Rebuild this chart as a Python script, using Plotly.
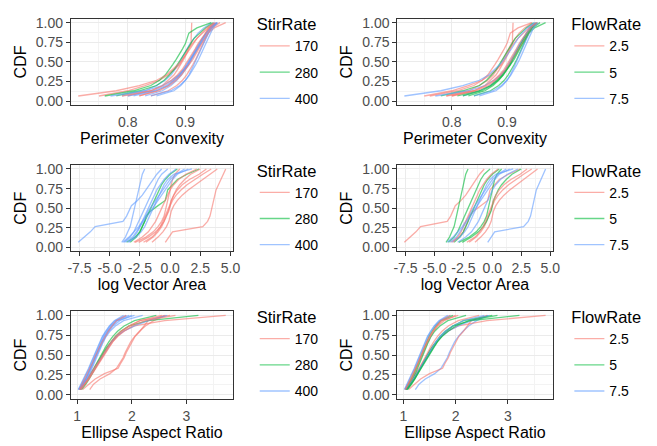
import plotly.graph_objects as go

# ---- data -------------------------------------------------------------
stir_levels = ["170", "280", "400"]
flow_levels = ["2.5", "5", "7.5"]

curve_stir = ["400", "170", "170", "170", "280", "280", "400", "400",
              "170", "400", "400", "170", "400", "170", "400", "170"]
curve_flow = ["2.5", "7.5", "2.5", "2.5", "2.5", "5", "5", "5",
              "5", "7.5", "7.5", "7.5", "2.5", "5", "7.5", "2.5"]

convexity = [
    [0.79, 0.83, 0.85, 0.865, 0.875, 0.882, 0.888, 0.893, 0.898, 0.903, 0.908, 0.915, 0.922, 0.932, 0.945],
    [0.82, 0.85, 0.87, 0.88, 0.89, 0.898, 0.905, 0.91, 0.915, 0.92, 0.925, 0.93, 0.935, 0.94, 0.95],
    [0.80, 0.84, 0.86, 0.87, 0.88, 0.886, 0.892, 0.897, 0.902, 0.906, 0.91, 0.91, 0.91, 0.91, 0.911],
    [0.75, 0.80, 0.83, 0.855, 0.87, 0.88, 0.89, 0.895, 0.90, 0.905, 0.912, 0.92, 0.93, 0.94, 0.955],
    [0.76, 0.81, 0.84, 0.855, 0.865, 0.872, 0.878, 0.884, 0.89, 0.895, 0.90, 0.903, 0.906, 0.92, 0.945],
    [0.78, 0.82, 0.85, 0.863, 0.872, 0.88, 0.886, 0.892, 0.898, 0.903, 0.909, 0.915, 0.925, 0.935, 0.948],
    [0.83, 0.86, 0.875, 0.885, 0.893, 0.90, 0.906, 0.911, 0.916, 0.921, 0.926, 0.931, 0.937, 0.943, 0.952],
    [0.81, 0.85, 0.87, 0.882, 0.891, 0.898, 0.904, 0.909, 0.914, 0.919, 0.924, 0.93, 0.936, 0.944, 0.955],
    [0.84, 0.87, 0.885, 0.895, 0.902, 0.908, 0.913, 0.918, 0.922, 0.926, 0.93, 0.935, 0.94, 0.95, 0.97],
    [0.85, 0.88, 0.892, 0.90, 0.906, 0.911, 0.915, 0.919, 0.923, 0.927, 0.931, 0.935, 0.94, 0.946, 0.953],
    [0.77, 0.83, 0.86, 0.876, 0.888, 0.896, 0.902, 0.908, 0.913, 0.918, 0.923, 0.929, 0.936, 0.943, 0.95],
    [0.714, 0.78, 0.82, 0.85, 0.867, 0.878, 0.887, 0.895, 0.902, 0.908, 0.914, 0.92, 0.928, 0.937, 0.95],
    [0.80, 0.845, 0.866, 0.879, 0.889, 0.897, 0.903, 0.909, 0.915, 0.92, 0.926, 0.932, 0.938, 0.945, 0.955],
    [0.82, 0.855, 0.872, 0.884, 0.893, 0.90, 0.907, 0.913, 0.918, 0.923, 0.928, 0.933, 0.939, 0.946, 0.96],
    [0.84, 0.875, 0.89, 0.90, 0.907, 0.913, 0.918, 0.923, 0.927, 0.931, 0.935, 0.939, 0.943, 0.948, 0.956],
    [0.79, 0.84, 0.862, 0.876, 0.886, 0.894, 0.90, 0.906, 0.912, 0.917, 0.922, 0.928, 0.935, 0.942, 0.952],
]

log_area = [
    [-7.6, -7.1, -6.6, -6.2, -3.9, -3.6, -3.4, -3.2, -2.7, -2.3, -2.0, -1.7, -1.4, -1.1, -0.7],
    [-0.4, -0.1, 0.2, 2.7, 3.1, 3.3, 3.4, 3.5, 3.6, 3.7, 3.8, 4.0, 4.2, 4.4, 4.6],
    [-1.5, -1.0, -0.6, -0.3, -0.1, 0.0, 0.1, 0.3, 0.6, 1.0, 1.5, 2.1, 2.7, 3.2, 3.9],
    [-2.0, -1.4, -1.0, -0.7, -0.5, -0.3, -0.15, 0.0, 0.2, 0.5, 0.9, 1.4, 2.0, 2.7, 3.4],
    [-3.6, -2.9, -2.5, -2.3, -2.1, -2.0, -1.6, -1.0, -0.4, -0.3, -0.2, 0.2, 0.6, 1.4, 2.4],
    [-3.3, -2.8, -2.5, -2.3, -2.1, -1.9, -1.7, -1.5, -1.3, -1.1, -0.9, -0.7, -0.4, 0.0, 0.6],
    [-4.0, -3.7, -3.5, -3.3, -3.2, -3.1, -3.0, -2.9, -2.8, -2.7, -2.6, -2.5, -2.4, -2.3, -2.1],
    [-3.8, -3.3, -3.0, -2.8, -2.6, -2.4, -2.2, -2.0, -1.8, -1.6, -1.4, -1.2, -1.0, -0.7, -0.2],
    [-2.9, -2.0, -1.4, -1.0, -0.7, -0.5, -0.4, -0.3, -0.2, -0.1, 0.0, 0.1, 0.2, 0.4, 0.8],
    [-3.9, -3.4, -3.0, -2.6, -2.3, -2.0, -1.8, -1.5, -1.2, -0.9, -0.6, -0.3, 0.0, 0.5, 1.2],
    [-3.5, -2.8, -2.4, -2.1, -1.9, -1.7, -1.5, -1.3, -1.1, -0.9, -0.7, -0.5, -0.2, 0.3, 1.8],
    [-3.0, -2.3, -1.8, -1.5, -1.2, -1.0, -0.8, -0.6, -0.4, -0.2, 0.0, 0.3, 0.7, 1.3, 2.2],
    [-3.4, -3.0, -2.7, -2.5, -2.3, -2.1, -1.9, -1.7, -1.5, -1.3, -1.1, -0.8, -0.5, -0.1, 0.5],
    [-2.6, -1.8, -1.2, -0.8, -0.5, -0.3, -0.1, 0.0, 0.1, 0.3, 0.5, 0.8, 1.2, 1.7, 2.5],
    [-3.7, -3.1, -2.8, -2.5, -2.2, -1.9, -1.6, -1.3, -1.0, -0.7, -0.4, -0.1, 0.2, 0.6, 1.5],
    [-2.2, -1.5, -1.1, -0.8, -0.6, -0.4, -0.2, -0.05, 0.1, 0.3, 0.6, 1.0, 1.6, 2.4, 3.0],
]

aspect = [
    [1.03, 1.10, 1.16, 1.21, 1.26, 1.30, 1.34, 1.38, 1.42, 1.47, 1.52, 1.58, 1.66, 1.78, 2.00],
    [1.23, 1.30, 1.42, 1.60, 1.72, 1.78, 1.84, 1.88, 1.93, 1.98, 2.05, 2.14, 2.25, 2.40, 2.62],
    [1.05, 1.12, 1.18, 1.24, 1.30, 1.36, 1.42, 1.48, 1.55, 1.63, 1.72, 1.85, 2.05, 2.60, 3.72],
    [1.10, 1.22, 1.33, 1.50, 1.75, 1.80, 1.86, 1.90, 1.95, 2.00, 2.06, 2.15, 2.22, 2.30, 2.60],
    [1.06, 1.14, 1.20, 1.26, 1.31, 1.36, 1.41, 1.46, 1.52, 1.58, 1.65, 1.74, 1.86, 2.05, 2.45],
    [1.08, 1.16, 1.22, 1.28, 1.33, 1.38, 1.43, 1.49, 1.55, 1.62, 1.70, 1.80, 1.95, 2.30, 3.22],
    [1.04, 1.10, 1.15, 1.20, 1.24, 1.28, 1.32, 1.36, 1.40, 1.44, 1.49, 1.55, 1.62, 1.72, 1.95],
    [1.05, 1.12, 1.18, 1.23, 1.27, 1.31, 1.35, 1.39, 1.43, 1.48, 1.53, 1.60, 1.70, 1.85, 2.20],
    [1.07, 1.15, 1.22, 1.28, 1.34, 1.40, 1.46, 1.52, 1.58, 1.65, 1.73, 1.82, 1.95, 2.15, 2.70],
    [1.03, 1.08, 1.13, 1.18, 1.22, 1.26, 1.30, 1.34, 1.38, 1.42, 1.47, 1.53, 1.60, 1.70, 1.90],
    [1.06, 1.13, 1.20, 1.26, 1.32, 1.38, 1.44, 1.50, 1.56, 1.63, 1.72, 1.85, 2.05, 2.30, 2.65],
    [1.05, 1.13, 1.20, 1.26, 1.32, 1.38, 1.44, 1.50, 1.56, 1.62, 1.70, 1.80, 1.95, 2.15, 2.55],
    [1.04, 1.10, 1.16, 1.20, 1.24, 1.28, 1.32, 1.36, 1.40, 1.45, 1.50, 1.56, 1.64, 1.74, 2.05],
    [1.06, 1.14, 1.21, 1.27, 1.33, 1.39, 1.45, 1.51, 1.58, 1.65, 1.74, 1.86, 2.00, 2.25, 2.80],
    [1.02, 1.07, 1.12, 1.17, 1.21, 1.25, 1.29, 1.33, 1.37, 1.41, 1.46, 1.52, 1.59, 1.68, 1.85],
    [1.04, 1.09, 1.14, 1.19, 1.24, 1.28, 1.32, 1.36, 1.41, 1.46, 1.51, 1.57, 1.64, 1.72, 1.90],
]

metric_titles = ["Perimeter Convexity", "log Vector Area", "Ellipse Aspect Ratio"]
x_tickvals = [[0.8, 0.9], [-7.5, -5.0, -2.5, 0.0, 2.5, 5.0], [1, 2, 3]]
x_ticktext = [["0.8", "0.9"], ["-7.5", "-5.0", "-2.5", "0.0", "2.5", "5.0"], ["1", "2", "3"]]
x_minorvals = [[0.75, 0.85, 0.95], [-6.25, -3.75, -1.25, 1.25, 3.75], [1.5, 2.5, 3.5]]
y_tickvals = [0, 0.25, 0.5, 0.75, 1.0]
y_ticktext = ["0.00", "0.25", "0.50", "0.75", "1.00"]
y_minorvals = [0.125, 0.375, 0.625, 0.875]

# ---- style ------------------------------------------------------------
W, H = 657, 446
palette = ["#F8766D", "#00BA38", "#619CFF"]
FONT = "Liberation Sans, Arial, sans-serif"
col_px = [(68, 233), (400, 558)]
row_px = [(15, 103), (164, 252), (313, 402)]
legend_x_px = [255, 575]
legend_top_px = [5, 154, 303]

metrics = [convexity, log_area, aspect]
col_groups = [(curve_stir, stir_levels, "StirRate"), (curve_flow, flow_levels, "FlowRate")]

fig = go.Figure()
layout = dict(width=W, height=H, margin=dict(l=0, r=0, t=0, b=0),
              paper_bgcolor="white", plot_bgcolor="white",
              font=dict(family=FONT, size=13, color="black"))

panel = 0
for r in range(3):
    data = metrics[r]
    lo = min(min(c) for c in data)
    hi = max(max(c) for c in data)
    pad = (hi - lo) * 0.05
    for c in range(2):
        panel += 1
        sfx = "" if panel == 1 else str(panel)
        leg = "legend" if panel == 1 else f"legend{panel}"
        groups, levels, gtitle = col_groups[c]
        seen = set()
        for i, vals in enumerate(data):
            v = sorted(vals)
            n = len(v)
            y = [(k + 1) / n for k in range(n)]
            cat = groups[i]
            ci = levels.index(cat)
            show = cat not in seen
            seen.add(cat)
            fig.add_trace(go.Scatter(
                x=v, y=y, mode="lines", xaxis="x" + sfx, yaxis="y" + sfx,
                line=dict(color=palette[ci], width=1.3), opacity=0.6,
                name=cat, legendgroup=f"p{panel}-{cat}", showlegend=show,
                legendrank=ci + 1, legend=leg, hoverinfo="skip"))
        x0, x1 = col_px[c]
        y0, y1 = row_px[r]
        common = dict(showline=True, mirror=True, linecolor="#333333", linewidth=1,
                      ticks="outside", ticklen=4, tickcolor="#333333", tickwidth=1,
                      tickfont=dict(size=14, color="#4D4D4D"),
                      showgrid=True, gridcolor="#EBEBEB", gridwidth=1, zeroline=False)
        layout["xaxis" + sfx] = dict(
            common, domain=[x0 / W, x1 / W], anchor="y" + sfx,
            range=[lo - pad, hi + pad], tickmode="array",
            tickvals=x_tickvals[r], ticktext=x_ticktext[r],
            minor=dict(tickvals=x_minorvals[r], showgrid=True, gridcolor="#F3F3F3",
                       gridwidth=0.7, ticks=""),
            title=dict(text=metric_titles[r], font=dict(size=16), standoff=1))
        layout["yaxis" + sfx] = dict(
            common, domain=[1 - y1 / H, 1 - y0 / H], anchor="x" + sfx,
            range=[-0.05, 1.05], tickmode="array",
            tickvals=y_tickvals, ticktext=y_ticktext,
            minor=dict(tickvals=y_minorvals, showgrid=True, gridcolor="#F3F3F3",
                       gridwidth=0.7, ticks=""),
            title=dict(text="CDF", font=dict(size=16), standoff=5))
        layout[leg] = dict(
            x=legend_x_px[c] / W, y=1 - legend_top_px[r] / H, xanchor="left", yanchor="top",
            title=dict(text=gtitle, font=dict(size=16.5)), font=dict(size=14),
            bgcolor="rgba(0,0,0,0)", traceorder="grouped", tracegroupgap=5,
            itemwidth=30)

fig.update_layout(**layout)
fig.write_html("out.html", config={"displayModeBar": False},
               post_script="document.body.style.margin='0';")
